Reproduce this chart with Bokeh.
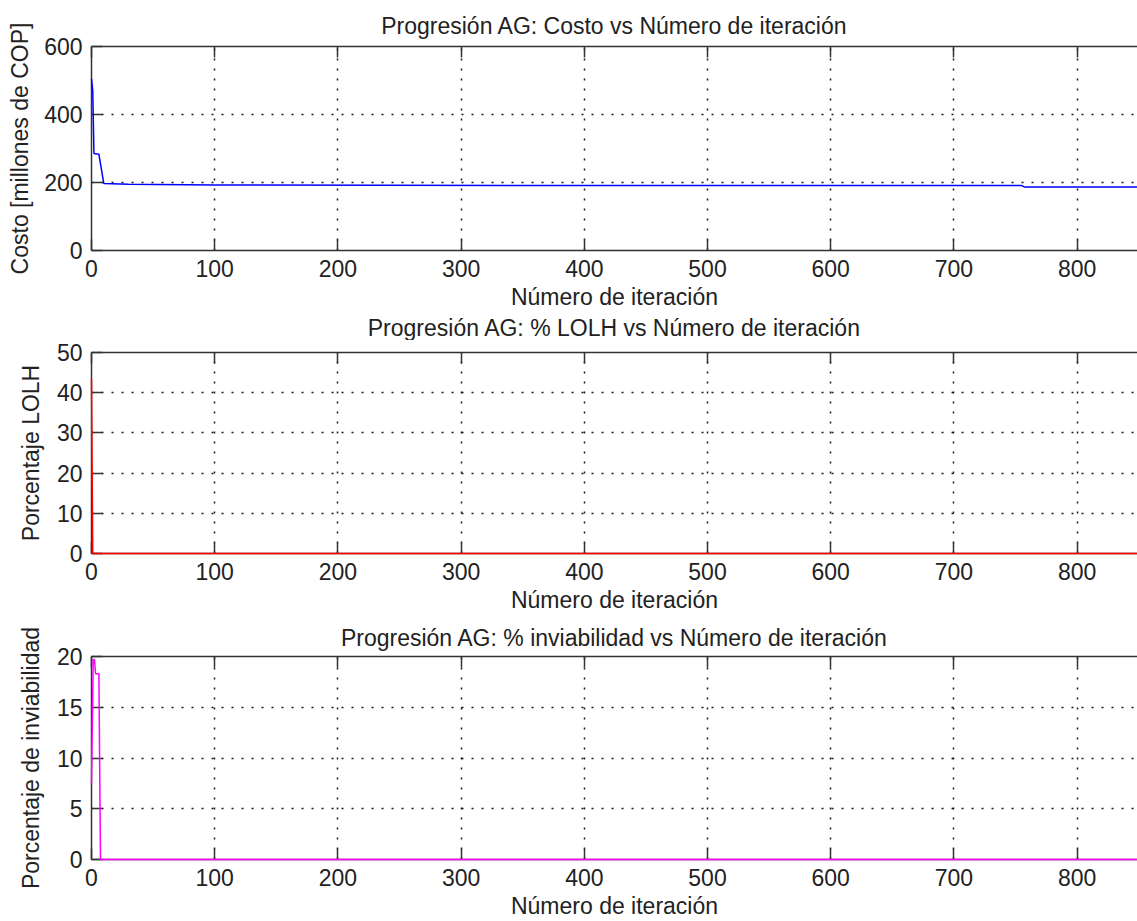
from bokeh.plotting import figure
from bokeh.layouts import column
from bokeh.models import LinearAxis, FixedTicker, Range1d, Title
from bokeh.embed import file_html
from bokeh.resources import INLINE

# ---- data ----
iter_costo = [0, 1, 2, 6, 10, 30, 100, 400, 755, 757, 849]
costo = [505, 470, 285, 283, 197, 195, 193, 191, 191, 187, 187]

iter_lolh = [0, 1, 849]
lolh = [43.5, 0, 0]

iter_inv = [0, 1.4, 2.4, 3.3, 6, 7.3, 849]
inviab = [7.5, 19.7, 19.7, 18.3, 18.3, 0, 0]

x_ticks = [0, 100, 200, 300, 400, 500, 600, 700, 800]
x_max = 849
titles = ["Progresión AG: Costo vs Número de iteración",
          "Progresión AG: % LOLH vs Número de iteración",
          "Progresión AG: % inviabilidad vs Número de iteración"]
y_labels = ["Costo [millones de COP]", "Porcentaje LOLH", "Porcentaje de inviabilidad"]
x_label = "Número de iteración"
y_ticks_list = [[0, 200, 400, 600], [0, 10, 20, 30, 40, 50], [0, 5, 10, 15, 20]]
y_ranges = [(0, 600), (0, 50), (0, 20)]
colors = ["#0000ff", "#ff0000", "#ff00ff"]
series = [(iter_costo, costo), (iter_lolh, lolh), (iter_inv, inviab)]

FONT = "Liberation Sans"
FS = "23px"
AX = "#333333"
TXT = "#222222"
frame_heights = [204, 201, 203]
tops = [46, 12, 41]
bottoms = [90, 62, 62]


def make_title(text, standoff):
    t = Title(text=text, align="center", text_font=FONT, text_font_size=FS,
              text_font_style="normal", text_color=TXT, standoff=standoff)
    return t


figs = []
for i in range(3):
    p = figure(frame_width=1046, frame_height=frame_heights[i],
               output_backend="svg", toolbar_location=None,
               x_range=Range1d(0, x_max), y_range=Range1d(*y_ranges[i]),
               min_border_left=91, min_border_right=0,
               min_border_top=tops[i], min_border_bottom=bottoms[i])
    p.outline_line_color = None
    p.background_fill_color = "white"
    p.border_fill_color = "white"

    xs, ys = series[i]
    p.line(xs, ys, line_color=colors[i], line_width=1.5, level="overlay")

    for ax in (p.xaxis[0], p.yaxis[0]):
        ax.major_tick_in = 11
        ax.major_tick_out = 0
        ax.minor_tick_line_color = None
        ax.axis_line_color = AX
        ax.axis_line_width = 1.5
        ax.major_tick_line_color = AX
        ax.major_tick_line_width = 1.5
        ax.major_label_text_font = FONT
        ax.major_label_text_font_size = FS
        ax.major_label_text_color = TXT
        ax.axis_label_text_font = FONT
        ax.axis_label_text_font_size = FS
        ax.axis_label_text_font_style = "normal"
        ax.axis_label_text_color = TXT
    p.xaxis[0].ticker = FixedTicker(ticks=x_ticks)
    p.yaxis[0].ticker = FixedTicker(ticks=y_ticks_list[i])
    p.xaxis[0].axis_label = x_label
    p.xaxis[0].major_label_standoff = 9
    p.xaxis[0].axis_label_standoff = 4
    p.yaxis[0].axis_label = y_labels[i]
    p.yaxis[0].axis_label_standoff = 8 if i == 0 else 10
    p.yaxis[0].major_label_standoff = 9

    top = LinearAxis(ticker=FixedTicker(ticks=x_ticks), major_label_text_font_size="1px",
                     major_label_text_color=None,
                     major_tick_in=11, major_tick_out=0, minor_tick_line_color=None,
                     axis_line_color=AX, axis_line_width=1.5,
                     major_tick_line_color=AX, major_tick_line_width=1.5,
                     major_label_standoff=0, axis_label_standoff=0)
    p.add_layout(top, "above")

    if i == 0:
        p.add_layout(make_title(titles[0], 16), "above")
        # title of the second panel sits directly below this panel's x label
        p.add_layout(make_title(titles[1], 0), "below")
    if i == 2:
        p.add_layout(make_title(titles[2], 11), "above")

    for g in (p.xgrid[0], p.ygrid[0]):
        g.grid_line_color = "black"
        g.grid_line_dash = "2 8"
        g.grid_line_width = 1.5
        g.grid_line_alpha = 0.9
    p.xgrid[0].ticker = FixedTicker(ticks=x_ticks)
    p.ygrid[0].ticker = FixedTicker(ticks=y_ticks_list[i])
    figs.append(p)

layout = column(*figs, spacing=0)
open("out.html", "w").write(file_html(layout, INLINE))
